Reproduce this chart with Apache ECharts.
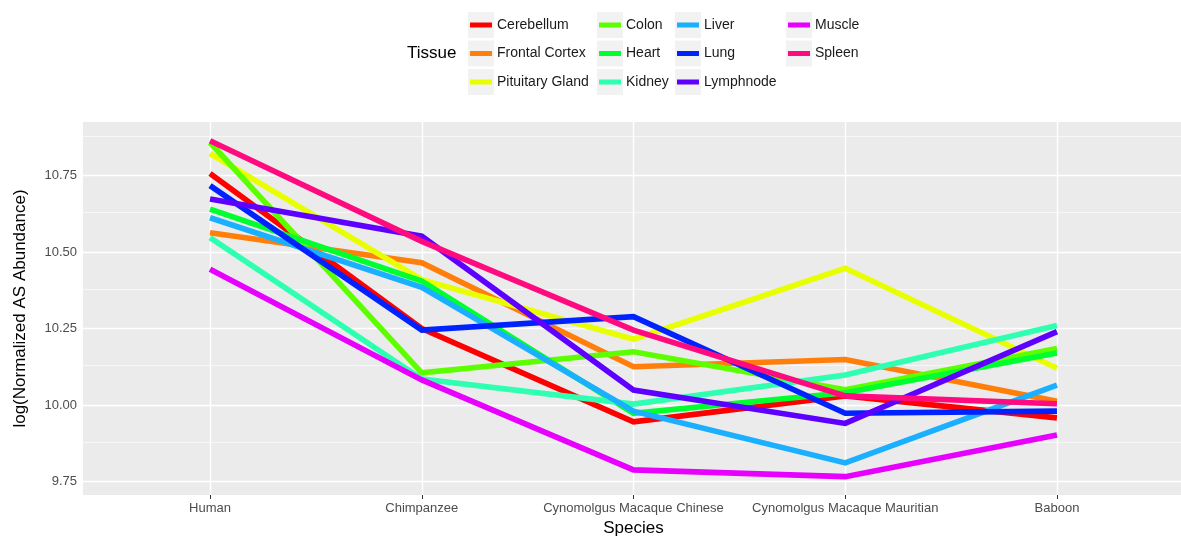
<!DOCTYPE html>
<html>
<head>
<meta charset="utf-8">
<title>AS abundance by species and tissue</title>
<script src="https://cdn.jsdelivr.net/npm/echarts@6/dist/echarts.min.js"></script>
<style>
  html, body { margin: 0; padding: 0; background: #ffffff; }
  #chart { width: 1181px; height: 537px; }
</style>
</head>
<body>
<div id="chart"></div>
<script>
// Species along the x axis
var species = ['Human', 'Chimpanzee', 'Cynomolgus Macaque Chinese', 'Cynomolgus Macaque Mauritian', 'Baboon'];

// log(Normalized AS Abundance) per tissue, one value per species
var cerebellum     = [10.757, 10.250, 9.945, 10.030, 9.958];
var frontalCortex  = [10.563, 10.465, 10.125, 10.149, 10.012];
var pituitaryGland = [10.822, 10.410, 10.215, 10.447, 10.120];
var colon          = [10.858, 10.105, 10.174, 10.050, 10.185];
var heart          = [10.640, 10.405, 9.973, 10.040, 10.170];
var kidney         = [10.547, 10.085, 10.003, 10.098, 10.260];
var liver          = [10.612, 10.385, 9.980, 9.811, 10.065];
var lung           = [10.717, 10.245, 10.289, 9.973, 9.980];
var lymphnode      = [10.673, 10.552, 10.049, 9.940, 10.240];
var muscle         = [10.444, 10.082, 9.788, 9.766, 9.902];
var spleen         = [10.864, 10.535, 10.245, 10.030, 10.004];

// Y axis tick values (major) and the minor grid values between them
var yTicks = [9.75, 10.00, 10.25, 10.50, 10.75];
var yMinor = [9.875, 10.125, 10.375, 10.625, 10.875];

var tissues = [
  { name: 'Cerebellum',      values: cerebellum,     color: '#FF0000' },
  { name: 'Frontal Cortex',  values: frontalCortex,  color: '#FF7F0A' },
  { name: 'Pituitary Gland', values: pituitaryGland, color: '#E8FF00' },
  { name: 'Colon',           values: colon,          color: '#5DFF00' },
  { name: 'Heart',           values: heart,          color: '#00FF2E' },
  { name: 'Kidney',          values: kidney,         color: '#2EFFB0' },
  { name: 'Liver',           values: liver,          color: '#1AAFFF' },
  { name: 'Lung',            values: lung,           color: '#0022FF' },
  { name: 'Lymphnode',       values: lymphnode,      color: '#5D00FF' },
  { name: 'Muscle',          values: muscle,         color: '#E800FF' },
  { name: 'Spleen',          values: spleen,         color: '#FF0A7F' }
];

// Legend columns (filled column by column, three rows each)
var legendColumns = [
  ['Cerebellum', 'Frontal Cortex', 'Pituitary Gland'],
  ['Colon', 'Heart', 'Kidney'],
  ['Liver', 'Lung', 'Lymphnode'],
  ['Muscle', 'Spleen']
];
var legendLeft = [470, 599, 677, 788];
var legendTop = 17;
var legendPitch = 28.5;

var chart = echarts.init(document.getElementById('chart'), null, { renderer: 'canvas' });

var series = [];
// Panel grid lines, drawn beneath the data lines
var gridData = [];
species.forEach(function (s, i) {
  gridData.push({ xAxis: i, lineStyle: { color: '#FFFFFF', width: 1.4, type: 'solid' } });
});
yTicks.forEach(function (v) {
  gridData.push({ yAxis: v, lineStyle: { color: '#FFFFFF', width: 1.4, type: 'solid' } });
});
yMinor.forEach(function (v) {
  gridData.push({ yAxis: v, lineStyle: { color: '#FFFFFF', width: 0.6, type: 'solid' } });
});
series.push({
  name: '__grid',
  type: 'line',
  data: [],
  z: 1,
  silent: true,
  markLine: {
    silent: true,
    symbol: 'none',
    z: 1,
    animation: false,
    label: { show: false },
    emphasis: { disabled: true },
    data: gridData
  }
});

tissues.forEach(function (t, k) {
  series.push({
    name: t.name,
    type: 'line',
    data: t.values.map(function (v, i) { return [i, v]; }),
    showSymbol: false,
    symbol: 'none',
    z: 2 + k * 0.01,
    color: t.color,
    lineStyle: { width: 5.6, color: t.color, cap: 'butt', join: 'miter' },
    emphasis: { disabled: true },
    animation: false
  });
});

var legends = legendColumns.map(function (col, c) {
  return {
    orient: 'vertical',
    left: legendLeft[c],
    top: legendTop,
    padding: 0,
    data: col,
    icon: 'rect',
    itemWidth: 22,
    itemHeight: 5,
    itemGap: 12.5,
    selectedMode: false,
    textStyle: { fontFamily: 'Liberation Sans, Arial, sans-serif', fontSize: 14, color: '#1A1A1A', lineHeight: 16 }
  };
});

// Light key boxes behind the legend swatches
var keyBoxes = [];
legendColumns.forEach(function (col, c) {
  col.forEach(function (name, r) {
    keyBoxes.push({
      type: 'rect',
      z: 0,
      shape: { x: legendLeft[c] - 2, y: legendTop + 8 - 13 + r * legendPitch, width: 26, height: 26 },
      style: { fill: '#F2F2F2' },
      silent: true
    });
  });
});

chart.setOption({
  backgroundColor: '#FFFFFF',
  animation: false,
  title: {
    text: 'Tissue',
    left: 407,
    top: 45,
    padding: 0,
    textStyle: { fontFamily: 'Liberation Sans, Arial, sans-serif', fontSize: 17, fontWeight: 'normal', color: '#000000' }
  },
  legend: legends,
  graphic: keyBoxes,
  grid: {
    left: 83,
    top: 122,
    width: 1101,
    bottom: 42,
    show: true,
    backgroundColor: '#EBEBEB',
    borderWidth: 0,
    containLabel: false,
    outerBoundsMode: 'none'
  },
  xAxis: {
    type: 'value',
    min: -0.6,
    max: 4.6,
    name: 'Species',
    nameLocation: 'middle',
    nameGap: 22,
    nameTextStyle: { fontFamily: 'Liberation Sans, Arial, sans-serif', fontSize: 17, color: '#000000' },
    axisLine: { show: false },
    splitLine: { show: false },
    axisTick: { show: true, length: 4, lineStyle: { color: '#333333', width: 1 }, customValues: species.map(function (s, i) { return i; }) },
    axisLabel: {
      customValues: species.map(function (s, i) { return i; }),
      formatter: function (v) { return species[Math.round(v)]; },
      fontFamily: 'Liberation Sans, Arial, sans-serif',
      fontSize: 13,
      color: '#4D4D4D',
      margin: 7
    }
  },
  yAxis: {
    type: 'value',
    min: 9.706,
    max: 10.925,
    name: 'log(Normalized AS Abundance)',
    nameLocation: 'middle',
    nameGap: 54,
    nameTextStyle: { fontFamily: 'Liberation Sans, Arial, sans-serif', fontSize: 17, color: '#000000' },
    axisLine: { show: false },
    splitLine: { show: false },
    axisTick: { show: true, length: 4, lineStyle: { color: '#333333', width: 1 }, customValues: yTicks },
    axisLabel: {
      customValues: yTicks,
      formatter: function (v) { return v.toFixed(2); },
      fontFamily: 'Liberation Sans, Arial, sans-serif',
      fontSize: 13,
      color: '#4D4D4D',
      margin: 6
    }
  },
  series: series
});
</script>
</body>
</html>
